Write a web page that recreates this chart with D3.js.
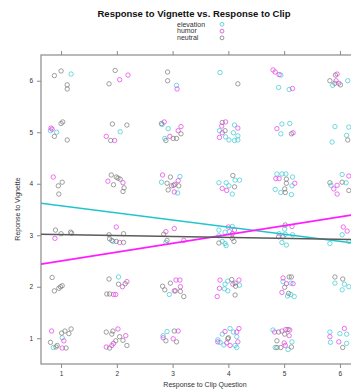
<!DOCTYPE html>
<html>
<head>
<meta charset="utf-8">
<script src="https://cdn.jsdelivr.net/npm/d3@7"></script>
<style>
  body { margin: 0; background: #fff; }
  text { font-family: "Liberation Sans", Arial, sans-serif; }
</style>
</head>
<body>
<div id="chart"></div>
<script>
// jittered responses [clip, vignette] per group
var elevation = [
  [1.18,6.13],[0.81,5.03],[0.92,5.00],[2.06,5.01],
  [3.07,5.91],[3.85,6.16],[2.81,5.15],[2.92,5.07],[2.86,4.88],
  [4.11,5.14],[3.84,5.03],[4.09,4.99],[3.95,4.91],[4.17,4.93],[4.01,4.85],[4.11,4.84],[4.17,4.85],
  [3.13,4.14],[2.80,4.03],[3.09,3.82],
  [4.12,4.07],[4.20,4.07],[3.83,4.02],[3.96,4.02],[4.01,3.96],[4.07,3.80],
  [4.94,6.11],[4.90,5.87],[5.09,5.83],[5.87,5.91],[6.14,6.00],
  [4.96,5.16],[5.10,5.17],[4.94,4.97],[5.91,5.11],[6.16,5.10],[6.12,4.94],[5.86,4.81],
  [4.87,4.19],[4.96,4.19],[5.03,4.19],[5.15,4.13],[5.14,3.96],[4.84,3.89],[4.94,3.83],[5.13,3.79],
  [6.04,4.18],[5.84,3.97],[6.11,4.02],
  [1.93,2.88],[2.03,2.19],[1.02,1.01],[0.86,0.82],
  [2.88,2.86],[4.07,3.17],[3.83,3.10],[3.94,3.06],[4.02,3.07],[3.83,2.99],[3.89,2.88],[3.94,2.84],[3.96,2.80],
  [2.94,1.85],[3.99,2.11],[3.94,2.05],[4.20,2.03],[3.93,1.96],[3.99,1.92],
  [2.90,1.13],[2.83,1.05],
  [4.03,1.19],[4.09,1.12],[3.89,1.08],[3.81,0.97],[3.85,0.92],[4.15,1.03],[3.92,0.87],[4.12,0.86],[4.15,0.82],
  [5.01,3.12],[4.91,3.03],[5.02,3.02],[5.15,3.01],[4.96,2.86],[5.04,2.81],
  [6.04,3.01],[5.82,2.84],[6.16,2.88],
  [4.98,2.10],[5.12,2.07],[5.12,1.85],[5.06,1.82],[5.18,1.81],
  [5.91,2.07],[6.08,2.05],[6.04,1.94],[6.16,2.00],
  [4.80,1.16],[5.14,0.93],[4.84,0.82],[5.07,0.78],
  [5.82,1.12],[6.00,1.09],[6.12,1.08],[5.83,0.92],[6.12,0.90]
];
var humor = [
  [2.20,6.11],[2.05,6.02],[0.82,5.08],[0.84,5.06],[1.81,4.92],[1.96,4.84],
  [0.86,4.13],[1.84,4.05],[2.11,4.02],
  [3.08,5.84],[2.85,5.20],[3.15,5.11],[3.10,5.03],[2.95,4.92],
  [3.95,5.20],[3.88,5.12],[4.17,5.08],[3.89,4.99],[3.84,4.90],
  [2.82,4.17],[3.10,4.06],[3.02,3.97],[3.03,3.84],
  [3.89,3.91],[3.97,3.87],
  [4.80,6.21],[4.84,6.17],[4.91,6.12],[5.15,5.85],[5.95,6.13],[5.93,6.00],[5.98,5.95],
  [4.87,5.07],[5.16,4.99],
  [4.85,4.10],[4.91,4.10],[5.19,4.01],
  [6.16,4.15],[5.95,3.97],[5.89,3.90],[5.95,3.80],
  [0.89,2.94],[1.99,3.16],[2.05,2.86],
  [2.18,2.10],[2.10,2.00],[1.94,1.85],[1.98,1.85],
  [0.83,1.14],[1.05,0.95],[1.02,0.81],
  [2.02,1.18],[2.16,1.05],[1.94,0.90],[1.81,0.83],[1.91,0.86],
  [3.03,3.13],[2.88,3.07],[3.20,2.90],
  [4.00,3.16],[4.11,3.10],[4.07,3.03],
  [3.06,2.13],[3.13,2.13],[3.14,2.00],[3.03,1.92],
  [4.19,2.13],[3.85,2.13],[4.08,2.05],[3.84,1.97],[3.80,1.81],
  [3.10,1.14],[2.83,1.01],[3.01,0.99],
  [4.19,1.19],[4.15,1.12],[3.94,1.13],[3.81,0.93],[4.17,0.93],[4.03,0.86],[3.97,0.91],
  [5.14,3.17],[4.90,2.97],[6.06,3.16],[6.13,3.08],
  [4.98,2.17],[5.04,2.06],[5.16,2.06],[4.96,1.89],
  [4.83,1.12],[4.96,1.14],[5.03,1.17],[5.10,1.16],[5.09,1.05],[5.00,0.91],[5.02,0.86],
  [6.08,1.19],[5.82,1.03],[5.98,0.93]
];
var neutral = [
  [0.88,6.10],[1.00,6.19],[1.11,5.92],[1.11,5.84],
  [1.97,6.20],[1.86,5.94],
  [1.03,5.20],[1.00,5.17],[0.88,4.92],[1.11,4.85],
  [1.92,5.16],[2.18,5.14],[1.89,4.84],
  [1.02,4.03],[0.95,3.96],[0.96,3.80],
  [1.90,4.17],[1.99,4.13],[2.02,4.11],[2.06,4.09],[1.94,3.98],[2.13,3.92],[2.11,3.85],
  [2.91,6.17],[2.91,6.00],[4.17,5.94],
  [2.80,5.17],[3.15,4.97],[3.01,4.88],[3.07,4.88],[2.88,4.84],
  [3.89,5.19],[3.94,5.03],
  [2.96,4.13],[2.90,4.01],[2.98,3.96],[3.04,3.99],[3.11,3.96],[2.92,3.88],
  [4.08,4.16],[4.11,3.94],
  [5.92,6.11],[5.82,6.00],[5.91,5.95],[6.01,5.92],
  [5.13,4.97],[6.14,4.85],
  [5.04,4.09],[5.04,4.01],[5.01,3.90],[5.02,3.83],
  [6.04,4.03],[5.82,4.02],[6.16,3.87],
  [0.90,3.10],[1.17,3.06],[1.19,3.04],[1.00,3.03],
  [2.12,3.03],[1.86,3.01],[1.87,2.93],[1.91,2.90],[1.99,2.88],[2.12,2.86],
  [0.84,2.18],[1.02,2.02],[0.99,2.00],[0.96,1.97],[0.88,1.92],
  [1.86,2.15],[2.15,2.06],[2.03,2.05],[1.82,1.86],[1.87,1.86],
  [1.18,1.18],[1.07,1.14],[1.01,1.10],[1.14,1.09],[0.81,0.92],[0.93,0.86],[0.91,0.83],[1.09,0.81],
  [1.81,1.12],[1.93,1.14],[1.91,1.08],[2.05,1.03],[1.98,0.95],[2.11,0.96],[1.87,0.81],[2.18,0.86],
  [2.84,3.02],[2.90,2.90],
  [4.07,2.94],[3.83,2.85],[4.10,2.88],
  [2.96,2.07],[2.82,2.01],[2.86,1.94],[3.05,1.92],[3.14,1.91],[3.20,1.81],
  [4.06,2.14],[4.12,2.07],[4.13,2.01],[4.12,1.84],
  [3.03,1.14],[2.88,0.95],[3.07,0.93],
  [4.00,1.01],[3.99,0.99],
  [5.02,3.20],[4.98,2.97],
  [5.09,2.19],[5.13,2.19],[5.01,1.99],[5.08,1.87],
  [5.91,2.19],[6.05,2.15],
  [4.90,1.12],[5.07,1.17],[5.01,1.08],[4.87,0.95],[4.87,0.82],[4.94,0.82],[5.13,0.83],
  [6.05,0.82]
];

var groups = ["elevation", "humor", "neutral"];
var groupData = [elevation, humor, neutral];
var pointColors = ["#3ccad2", "#e83ce8", "#7a7a7a"];
var lineColors = ["#22c4cc", "#ff1cff", "#5a5a5a"];
// linear fits: [intercept, slope]
var fits = [[3.71, -0.138], [2.33, 0.171], [3.03, -0.018]];
var ticks = [1, 2, 3, 4, 5, 6];

var W = 351, H = 389;
var margin = {top: 55, left: 41, right: -9, bottom: 25};
var plotW = W - margin.left - margin.right,
    plotH = H - margin.top - margin.bottom;

var svg = d3.select("#chart").append("svg")
  .attr("width", W).attr("height", H);

var x = d3.scaleLinear().domain([0.64, 6.36]).range([margin.left, margin.left + plotW]);
var y = d3.scaleLinear().domain([0.5, 6.5]).range([margin.top + plotH, margin.top]);

svg.append("clipPath").attr("id", "clip")
  .append("rect")
  .attr("x", margin.left).attr("y", margin.top)
  .attr("width", plotW).attr("height", plotH);

// axes (lattice style: ticks outside, top axis without labels)
var axisColor = "#8a8a8a";
function styleAxis(g) {
  g.select(".domain").remove();
  g.selectAll(".tick line").attr("stroke", axisColor);
  g.selectAll(".tick text").attr("fill", "#333").style("font-size", "6.5px");
}
svg.append("g")
  .attr("transform", "translate(0," + (margin.top + plotH) + ")")
  .call(d3.axisBottom(x).tickValues(ticks).tickSize(4).tickPadding(3).tickFormat(d3.format("d")))
  .call(styleAxis);
svg.append("g")
  .attr("transform", "translate(0," + margin.top + ")")
  .call(d3.axisTop(x).tickValues(ticks).tickSize(4).tickFormat(""))
  .call(styleAxis);
svg.append("g")
  .attr("transform", "translate(" + margin.left + ",0)")
  .call(d3.axisLeft(y).tickValues(ticks).tickSize(4).tickPadding(4).tickFormat(d3.format("d")))
  .call(styleAxis);

svg.append("rect")
  .attr("x", margin.left).attr("y", margin.top)
  .attr("width", plotW).attr("height", plotH)
  .attr("fill", "none").attr("stroke", axisColor).attr("stroke-width", 1.2);

var plot = svg.append("g").attr("clip-path", "url(#clip)");

groupData.forEach(function(data, i) {
  plot.selectAll(".pt" + i)
    .data(data)
    .enter()
    .append("circle")
    .attr("cx", function(d) { return x(d[0]); })
    .attr("cy", function(d) { return y(d[1]); })
    .attr("r", 2.2)
    .attr("fill", "none")
    .attr("stroke", pointColors[i])
    .attr("stroke-width", 0.8)
    .attr("opacity", 0.9);
});

var xd = x.domain();
fits.forEach(function(f, i) {
  plot.append("line")
    .attr("x1", x(xd[0])).attr("y1", y(f[0] + f[1] * xd[0]))
    .attr("x2", x(xd[1])).attr("y2", y(f[0] + f[1] * xd[1]))
    .attr("stroke", lineColors[i])
    .attr("stroke-width", 1.6);
});

// title
svg.append("text")
  .attr("x", 194).attr("y", 17)
  .attr("text-anchor", "middle")
  .style("font-size", "9.5px")
  .style("font-weight", "bold")
  .attr("fill", "#111")
  .text("Response to Vignette vs. Response to Clip");

// legend
var leg = svg.append("g");
groups.forEach(function(g, i) {
  leg.append("text")
    .attr("x", 177).attr("y", 26.5 + i * 6.8)
    .style("font-size", "7px")
    .attr("fill", "#333")
    .text(g);
  leg.append("circle")
    .attr("cx", 222).attr("cy", 24.3 + i * 6.8)
    .attr("r", 1.9)
    .attr("fill", "none")
    .attr("stroke", pointColors[i])
    .attr("stroke-width", 0.8);
});

// axis titles
svg.append("text")
  .attr("x", 205).attr("y", 387)
  .attr("text-anchor", "middle")
  .style("font-size", "7px")
  .attr("fill", "#333")
  .text("Response to Clip Question");

svg.append("text")
  .attr("transform", "translate(20,209) rotate(-90)")
  .attr("text-anchor", "middle")
  .style("font-size", "7px")
  .attr("fill", "#333")
  .text("Reponse to Vignette");
</script>
</body>
</html>
